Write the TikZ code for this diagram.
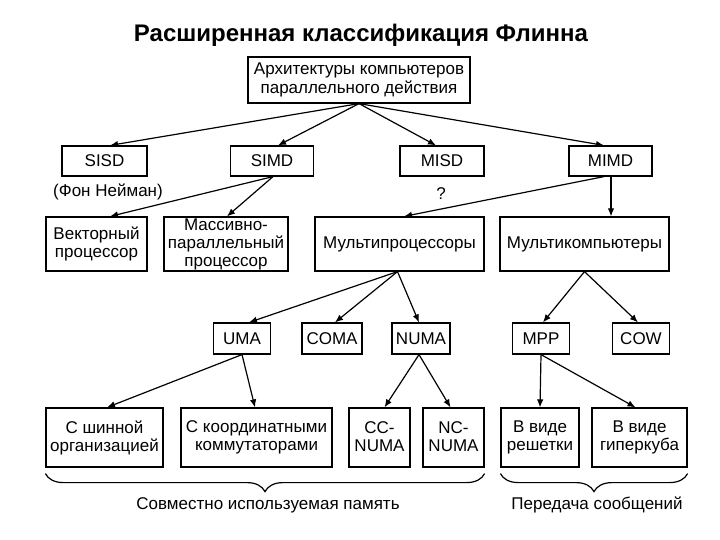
\documentclass[tikz,border=0pt]{standalone}
\usepackage{fontspec}
\setmainfont{Liberation Sans}
\usetikzlibrary{arrows.meta,decorations.pathreplacing,calc}
\newcommand\mystrut{\rule[-1.5pt]{0pt}{14.6pt}}
\begin{document}
\begin{tikzpicture}[x=1pt,y=-1pt,
  box/.style={draw,line width=1.2pt,inner sep=0pt,align=center,font=\fontsize{17}{18}\selectfont,
    execute at begin node=\mystrut, execute at end node=\mystrut},
  lbl/.style={inner sep=0pt,font=\fontsize{17}{18}\selectfont},
  arr/.style={line width=1.2pt,-{Latex[length=8pt,width=6.5pt]}},
  brc/.style={line width=1.2pt,decorate,decoration={brace,mirror,amplitude=18pt,raise=0pt}}]
\fill[white] (0,0) rectangle (720,540);
\useasboundingbox (0,0) rectangle (720,540);
\node[inner sep=0pt,font=\fontsize{24}{26}\selectfont\bfseries] (title) at (361,35) {Расширенная классификация Флинна};
\node[box,minimum width=222pt,minimum height=46pt,font=\fontsize{17}{19}\selectfont] (top) at (359,80) {Архитектуры компьютеров\\параллельного действия};
% row 2
\node[box,minimum width=85pt,minimum height=30pt] (sisd) at (104.5,161) {SISD};
\node[box,minimum width=83pt,minimum height=30pt] (simd) at (272,161) {SIMD};
\node[box,minimum width=84pt,minimum height=30pt] (misd) at (442,161) {MISD};
\node[box,minimum width=83pt,minimum height=30pt] (mimd) at (610.5,161) {MIMD};
\node[lbl] (vn) at (108,192) {(Фон Нейман)};
\node[lbl] (q) at (441,194) {?};
% row 3
\node[box,minimum width=101pt,minimum height=54pt] (vec) at (96.5,244) {Векторный\\процессор};
\node[box,minimum width=124pt,minimum height=54pt] (mpar) at (226,244) {Массивно-\\параллельный\\процессор};
\node[box,minimum width=169pt,minimum height=54pt] (mproc) at (399.5,244) {Мультипроцессоры};
\node[box,minimum width=169pt,minimum height=54pt] (mcomp) at (584.5,244) {Мультикомпьютеры};
% row 4
\node[box,minimum width=57pt,minimum height=31pt] (uma) at (242,338.5) {UMA};
\node[box,minimum width=60pt,minimum height=31pt] (coma) at (332,338.5) {COMA};
\node[box,minimum width=58pt,minimum height=31pt] (numa) at (421,338.5) {NUMA};
\node[box,minimum width=57pt,minimum height=31pt] (mpp) at (541,338.5) {MPP};
\node[box,minimum width=57pt,minimum height=31pt] (cow) at (641,338.5) {COW};
% row 5
\node[box,minimum width=117pt,minimum height=59pt] (bus) at (104.5,437.5) {С шинной\\организацией};
\node[box,minimum width=151pt,minimum height=59pt] (cross) at (256.5,437.5) {С координатными\\коммутаторами};
\node[box,minimum width=61pt,minimum height=59pt] (cc) at (379.5,437.5) {CC-\\NUMA};
\node[box,minimum width=61pt,minimum height=59pt] (nc) at (453.5,437.5) {NC-\\NUMA};
\node[box,minimum width=78pt,minimum height=59pt] (grid) at (540,437.5) {В виде\\решетки};
\node[box,minimum width=95pt,minimum height=59pt] (cube) at (639.5,437.5) {В виде\\гиперкуба};
% arrows
\draw[arr] (top.south) -- ([xshift=5.5pt]sisd.north);
\draw[arr] (top.south) -- ([xshift=6pt]simd.north);
\draw[arr] (top.south) -- ([xshift=-6pt]misd.north);
\draw[arr] (top.south) -- ([xshift=-6.5pt]mimd.north);
\draw[arr] ([xshift=1pt]simd.south) -- ([xshift=13.5pt]vec.north);
\draw[arr] ([xshift=1pt]simd.south) -- ([xshift=1pt]mpar.north);
\draw[arr] ([xshift=-6.5pt]mimd.south) -- ([xshift=4.5pt]mproc.north);
\draw[arr] ([xshift=0.5pt]mimd.south) -- ([xshift=26.5pt]mcomp.north);
\draw[arr] ([xshift=-2pt]mproc.south) -- ([xshift=7pt]uma.north);
\draw[arr] ([xshift=-2pt]mproc.south) -- ([xshift=3pt]coma.north);
\draw[arr] ([xshift=-2pt]mproc.south) -- ([xshift=-2pt]numa.north);
\draw[arr] (mcomp.south) -- ([xshift=2pt]mpp.north);
\draw[arr] (mcomp.south) -- ([xshift=-3pt]cow.north);
\draw[arr] (uma.south) -- ([xshift=2.5pt]bus.north);
\draw[arr] (uma.south) -- ([xshift=-1.5pt]cross.north);
\draw[arr] ([xshift=-2pt]numa.south) -- ([xshift=5pt]cc.north);
\draw[arr] ([xshift=-2pt]numa.south) -- ([xshift=-3pt]nc.north);
\draw[arr] (mpp.south) -- ([xshift=0pt]grid.north);
\draw[arr] (mpp.south) -- ([xshift=-4pt]cube.north);
% braces
\coordinate (b1l) at ($(bus.south west)+(0,6)$);
\coordinate (b1r) at ($(nc.south east)+(0,6)$);
\coordinate (b2l) at ($(grid.south west)+(0,6)$);
\coordinate (b2r) at ($(cube.south east)+(0,6)$);
\draw[brc] (b1l) -- (b1r);
\draw[brc] (b2l) -- (b2r);
\node[lbl] (shm) at (268,505) {Совместно используемая память};
\node[lbl] (msg) at (597,505) {Передача сообщений};
\end{tikzpicture}
\end{document}
